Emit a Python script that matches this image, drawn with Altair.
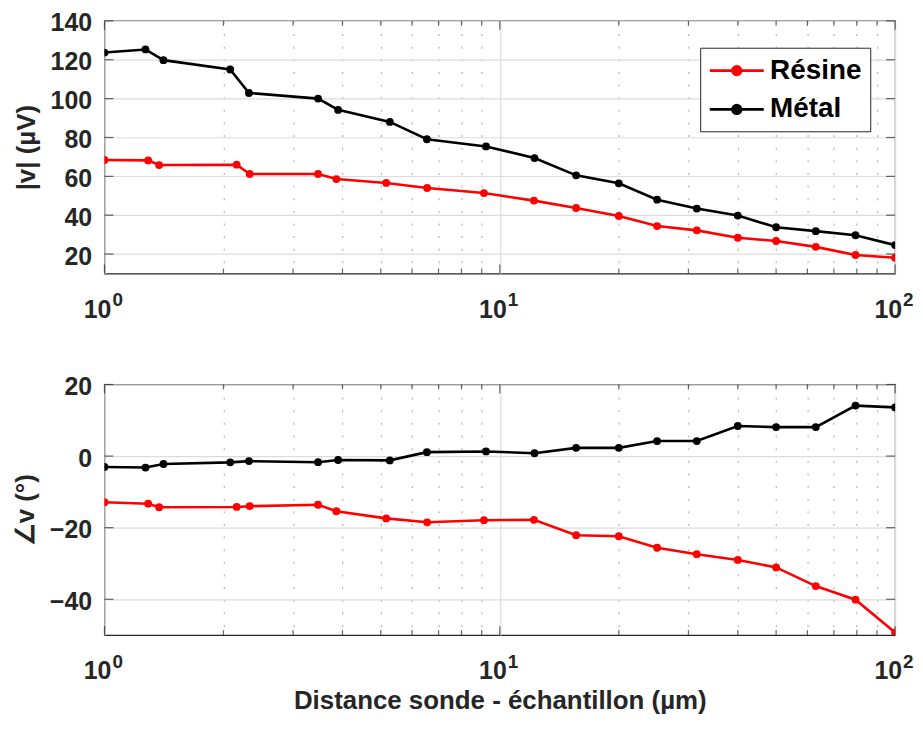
import altair as alt
import pandas as pd

# ---- data ----
series_names = ["Résine", "Métal"]
series_colors = ["#ff0000", "#000000"]

x_resine = [1, 1.29, 1.375, 2.16, 2.33, 3.47, 3.86, 5.16, 6.55, 9.12,
            12.2, 15.6, 20, 25, 31.5, 40, 50, 63, 79.4, 100]
amp_resine = [68.4, 68.2, 65.8, 66.0, 61.2, 61.2, 58.6, 56.6, 54.0, 51.4,
              47.5, 43.7, 39.6, 34.4, 32.2, 28.4, 26.7, 23.7, 19.5, 18.1]
phase_resine = [-12.9, -13.3, -14.3, -14.2, -14.0, -13.6, -15.4, -17.4, -18.5, -17.9,
                -17.8, -22.1, -22.4, -25.6, -27.4, -29.0, -31.1, -36.3, -40.1, -49.3]

x_metal = [1, 1.27, 1.41, 2.08, 2.32, 3.47, 3.90, 5.27, 6.54, 9.23,
           12.24, 15.6, 20, 25, 31.5, 40, 50, 63, 79.4, 100]
amp_metal = [123.7, 125.3, 119.8, 115.0, 102.9, 100.0, 94.2, 88.0, 79.1, 75.4,
             69.4, 60.5, 56.4, 48.0, 43.4, 39.8, 33.8, 31.8, 29.7, 24.6]
phase_metal = [-3.05, -3.2, -2.2, -1.75, -1.4, -1.7, -1.1, -1.2, 1.1, 1.3,
               0.8, 2.3, 2.3, 4.2, 4.2, 8.4, 8.1, 8.1, 14.1, 13.6]

x_major = [1, 10, 100]
x_major_base = ["10", "10", "10"]
x_major_exp = ["0", "1", "2"]
x_minor = [2, 3, 4, 5, 6, 7, 8, 9, 20, 30, 40, 50, 60, 70, 80, 90]
amp_ticks = [20, 40, 60, 80, 100, 120, 140]
phase_ticks = [-40, -20, 0, 20]

# ---- tables ----
df = pd.DataFrame({
    "x": x_resine + x_metal,
    "amp": amp_resine + amp_metal,
    "phase": phase_resine + phase_metal,
    "series": [series_names[0]] * len(x_resine) + [series_names[1]] * len(x_metal),
})
df_xmaj = pd.DataFrame({"x": x_major, "base": x_major_base, "exp": x_major_exp})
df_xmin = pd.DataFrame({"x": x_minor})

FRAME = "#262626"
FONT = "Liberation Sans"
W = 795

major_test = " || ".join(f"datum.value == {v}" for v in x_major)
x_scale = alt.Scale(type="log", domain=[1, 100], nice=False)
color = alt.Color("series:N", scale=alt.Scale(domain=series_names, range=series_colors),
                  legend=None)


def make_x_axis(title):
    return alt.Axis(
        values=x_major + x_minor,
        labels=False,
        grid=True,
        gridDash=alt.condition(major_test, alt.value([]), alt.value([2, 10.7])),
        gridColor=alt.condition(major_test, alt.value("#dcdcdc"), alt.value("#b4b4b4")),
        gridWidth=1.2,
        ticks=False,
        domain=False,
        titlePadding=53,
        title=title,
    )


def panel(field, ytitle, domain, yticks, height, xtitle, legend):
    y_scale = alt.Scale(domain=domain, nice=False, zero=False)
    y_axis = alt.Axis(values=yticks, title=ytitle, grid=True, gridColor="#dcdcdc",
                      gridWidth=1.2, ticks=False, domain=False, labelPadding=13,
                      labelOffset=2, titlePadding=11)
    x_axis = make_x_axis(xtitle)
    X = alt.X("x:Q", scale=x_scale, axis=x_axis)
    Y = alt.Y(f"{field}:Q", scale=y_scale, axis=y_axis)

    leg = None
    if legend:
        leg = alt.Legend(
            title=None, orient="none", legendX=599, legendY=27,
            direction="vertical",
            symbolType="M-2.05,0H2.05M0.33,0A0.33,0.33,0,1,1,-0.33,0A0.33,0.33,0,1,1,0.33,0Z",
            symbolSize=700, symbolStrokeWidth=2.6, symbolOffset=13.8,
            labelFont=FONT, labelFontSize=28, labelFontWeight="bold", labelColor="#000000",
            fillColor="#ffffff", strokeColor=FRAME,
            padding=8, rowPadding=10, labelOffset=18.5, labelLimit=300,
        )
    line_color = alt.Color("series:N",
                           scale=alt.Scale(domain=series_names, range=series_colors),
                           legend=leg)

    lines = alt.Chart(df).mark_line(strokeWidth=2.6, clip=True).encode(
        x=X, y=Y, color=line_color)
    pts = alt.Chart(df).mark_circle(size=62, opacity=1, clip=True).encode(
        x=X, y=Y, color=color)

    ytick_df = pd.DataFrame({field: yticks})
    tick_kw = dict(thickness=1.2, color=FRAME)
    xt_bot_maj = alt.Chart(df_xmaj).mark_tick(size=9, **tick_kw).encode(
        x=X, y=alt.value(height - 4.5))
    xt_bot_min = alt.Chart(df_xmin).mark_tick(size=5, **tick_kw).encode(
        x=X, y=alt.value(height - 2.5))
    xt_top_maj = alt.Chart(df_xmaj).mark_tick(size=9, **tick_kw).encode(
        x=X, y=alt.value(4.5))
    xt_top_min = alt.Chart(df_xmin).mark_tick(size=5, **tick_kw).encode(
        x=X, y=alt.value(2.5))
    yt_left = alt.Chart(ytick_df).mark_tick(size=9, orient="horizontal", **tick_kw).encode(
        y=Y, x=alt.value(4.5))
    yt_right = alt.Chart(ytick_df).mark_tick(size=9, orient="horizontal", **tick_kw).encode(
        y=Y, x=alt.value(W - 4.5))

    # decade tick labels 10^n drawn as text through the x scale
    lab_base = alt.Chart(df_xmaj).mark_text(
        font=FONT, fontSize=25, fontWeight="bold", color=FRAME, align="right",
        baseline="alphabetic", dx=7, clip=False,
    ).encode(x=X, y=alt.value(height + 44.5), text="base:N")
    lab_exp = alt.Chart(df_xmaj).mark_text(
        font=FONT, fontSize=19, fontWeight="bold", color=FRAME, align="left",
        baseline="alphabetic", dx=8, clip=False,
    ).encode(x=X, y=alt.value(height + 33), text="exp:N")

    return alt.layer(
        xt_bot_maj, xt_bot_min, xt_top_maj, xt_top_min, yt_left, yt_right,
        lines, pts, lab_base, lab_exp
    ).properties(width=W, height=height)


top = panel("amp", "|v| (µV)", [10, 140], amp_ticks, 254, None, True)
bottom = panel("phase", "∠v (°)", [-50, 20], phase_ticks, 252,
               "Distance sonde - échantillon (µm)", False)

chart = alt.vconcat(top, bottom, spacing=111.6, bounds="flush").properties(
    padding={"left": 3, "top": 0, "right": 0, "bottom": 0},
    background="#ffffff",
).configure_view(
    stroke=FRAME, strokeWidth=1.2
).configure_axis(
    labelFont=FONT, labelFontSize=25, labelFontWeight="bold", labelColor=FRAME,
    titleFont=FONT, titleFontSize=26, titleFontWeight="bold", titleColor=FRAME,
)

chart.save("out.html", embed_options={"renderer": "svg", "actions": False})
